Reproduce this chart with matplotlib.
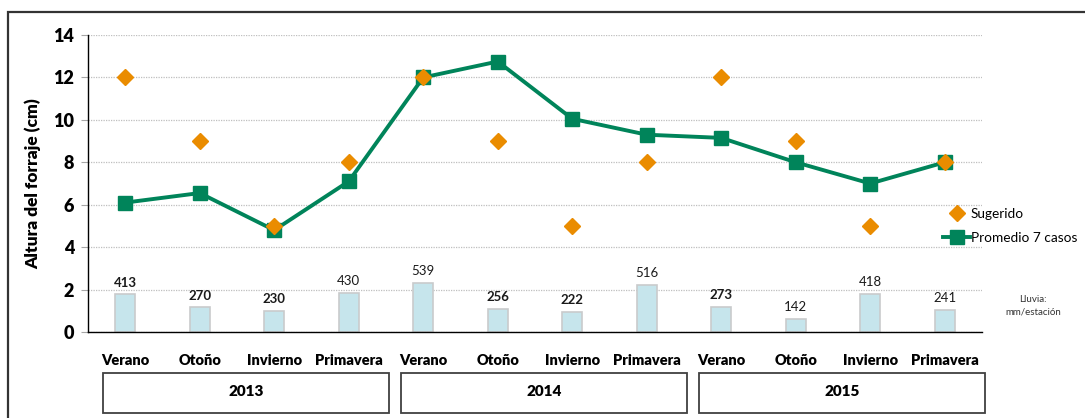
import matplotlib
matplotlib.use("Agg")
import matplotlib.pyplot as plt
from matplotlib.patches import Rectangle
from matplotlib.lines import Line2D
import matplotlib.transforms as mtransforms

plt.rcParams['font.family'] = ['Lato', 'DejaVu Sans']

seasons = ["Verano", "Otoño", "Invierno", "Primavera"] * 3
years = ["2013", "2014", "2015"]
sugerido = [12, 9, 5, 8, 12, 9, 5, 8, 12, 9, 5, 8]
promedio = [6.1, 6.55, 4.8, 7.1, 12.0, 12.75, 10.05, 9.3, 9.15, 8.0, 7.0, 8.0]
lluvia = [413, 270, 230, 430, 539, 256, 222, 516, 273, 142, 418, 241]
lluvia_bold = [True, True, True, False, False, True, True, False, True, False, False, False]

W, H = 1085, 418
fig = plt.figure(figsize=(W / 100, H / 100), dpi=100)
ax = fig.add_axes([88 / W, 1 - 332 / H, (982 - 88) / W, (332 - 35) / H])

x = list(range(len(seasons)))
rain_scale = 1 / 232.0
bar_h = [v * rain_scale for v in lluvia]

GREEN = "#00845A"
ORANGE = "#EA8C00"

ax.bar(x, bar_h, width=0.27, color="#C6E5EC", edgecolor="#C9CBCC",
       linewidth=1.2, zorder=2)
for xi, h, v, b in zip(x, bar_h, lluvia, lluvia_bold):
    ax.annotate(str(v), (xi, h), xytext=(0, 4), textcoords="offset points",
                ha="center", va="bottom", fontsize=9.5,
                fontweight="bold" if b else "normal", color="#1a1a1a", zorder=5)

ax.plot(x, promedio, color=GREEN, lw=2.8, marker="s", markersize=10,
        zorder=3, label="Promedio 7 casos")
ax.plot(x, sugerido, linestyle="none", color=ORANGE, marker="D",
        markersize=8, zorder=4, label="Sugerido")

ax.set_xlim(-0.5, len(seasons) - 0.5)
ax.set_ylim(0, 14)
ax.set_yticks(range(0, 15, 2))
ax.set_yticklabels([str(v) for v in range(0, 15, 2)], fontsize=13, fontweight="heavy")
ax.set_xticks(x)
ax.set_xticklabels(seasons, fontsize=10.5, fontweight="heavy")
ax.tick_params(axis="x", length=0, pad=16)
ax.tick_params(axis="y", length=5, color="#A6A6A6", width=0.8, pad=5)
ax.grid(axis="y", color="#BFBFBF", linestyle=(0, (1, 1)), linewidth=0.9, zorder=0)
ax.set_axisbelow(True)
for s in ["top", "right"]:
    ax.spines[s].set_visible(False)
ax.spines["left"].set_color("black")
ax.spines["bottom"].set_color("black")
ax.spines["left"].set_linewidth(1.0)
ax.spines["bottom"].set_linewidth(1.0)
ax.set_ylabel("Altura del forraje (cm)", fontsize=12.5, fontweight="heavy")
ax.yaxis.set_label_coords((41 - 88) / (982 - 88), 0.5)

# Year boxes
trans = mtransforms.blended_transform_factory(ax.transData, fig.transFigure)
for i, yr in enumerate(years):
    x0 = i * 4 - 0.3
    x1 = i * 4 + 3.54
    rect = Rectangle((x0, 1 - 413 / H), x1 - x0, 40 / H, transform=trans,
                     fill=False, edgecolor="#404040", linewidth=1.3, clip_on=False)
    fig.patches.append(rect)
    fig.text((x0 + x1) / 2, 1 - 392 / H, yr, transform=trans, fontsize=11,
             fontweight="heavy", ha="center", va="center")

# Legend
handles = [Line2D([], [], linestyle="none", marker="D", color=ORANGE, markersize=8),
           Line2D([], [], color=GREEN, lw=2.8, marker="s", markersize=10)]
ax.legend(handles, ["Sugerido", "Promedio 7 casos"], loc="center left",
          bbox_to_anchor=(943 / W, 1 - 226 / H), bbox_transform=fig.transFigure,
          frameon=False, fontsize=9.8, handlelength=2.0, handletextpad=0.05,
          labelspacing=0.85, borderaxespad=0, borderpad=0)

fig.text(1033 / W, 1 - 306 / H, "Lluvia:\nmm/estación", ha="center", va="center",
         fontsize=7, color="#333333", linespacing=1.5)

# Outer frame
frame = Rectangle((7.5 / W, -0.1), 1.2, 1 - 11.5 / H + 0.1, transform=fig.transFigure,
                  fill=False, edgecolor="#333333", linewidth=1.6, clip_on=False)
fig.patches.append(frame)

fig.savefig("out.png", dpi=100)
